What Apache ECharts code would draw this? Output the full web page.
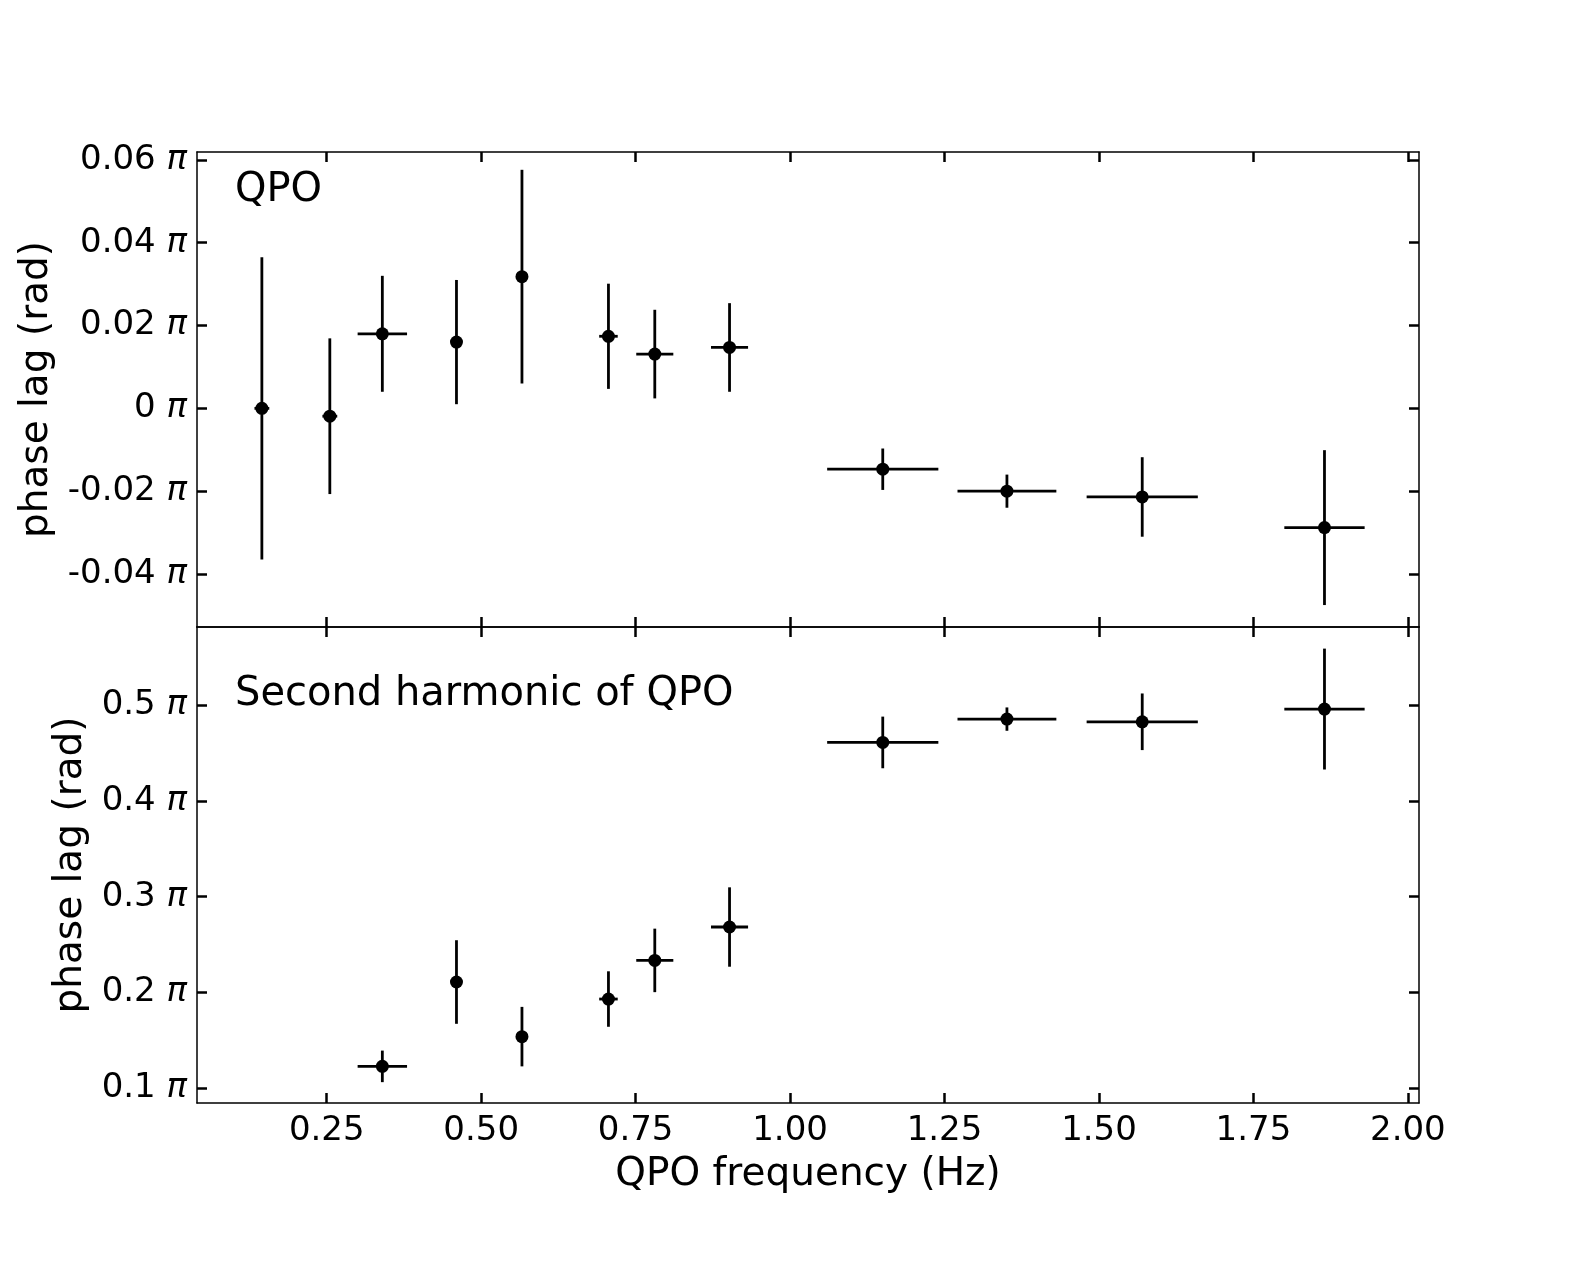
<!DOCTYPE html>
<html>
<head>
<meta charset="utf-8">
<script src="https://cdn.jsdelivr.net/npm/echarts@6/dist/echarts.min.js"></script>
<style>
  html, body { margin: 0; padding: 0; background: #fff; }
  #chart { width: 1578px; height: 1262px; }
</style>
</head>
<body>
<div id="chart"></div>
<script>
// QPO centroid frequency (Hz) and half-width of the frequency bin
var freq    = [0.145, 0.255, 0.340, 0.460, 0.566, 0.706, 0.781, 0.902, 1.150, 1.351, 1.570, 1.865];
var freqErr = [0.012, 0.012, 0.040, 0.006, 0.005, 0.015, 0.030, 0.030, 0.090, 0.080, 0.090, 0.065];
// phase lag of the QPO (units of pi)
var qpoLag  = [0.0, -0.0019, 0.0180, 0.0160, 0.0318, 0.0174, 0.0131, 0.0147, -0.0147, -0.0200, -0.0214, -0.0288];
var qpoErr  = [0.0365, 0.0188, 0.0140, 0.0150, 0.0258, 0.0127, 0.0107, 0.0107, 0.0050, 0.0040, 0.0096, 0.0187];
// phase lag of the second harmonic (units of pi), no value for the first two
var harmLag = [null, null, 0.1226, 0.2108, 0.1537, 0.1930, 0.2334, 0.2683, 0.4613, 0.4857, 0.4829, 0.4962];
var harmErr = [null, null, 0.0165, 0.0437, 0.0311, 0.0290, 0.0332, 0.0415, 0.0270, 0.0122, 0.0296, 0.0632];

var freqTicks  = [0.25, 0.50, 0.75, 1.00, 1.25, 1.50, 1.75, 2.00];
var upperTicks = [-0.04, -0.02, 0, 0.02, 0.04, 0.06];
var lowerTicks = [0.1, 0.2, 0.3, 0.4, 0.5];

var FONT = 'DejaVu Sans';

function pack(lag, err) {
  var out = [];
  for (var i = 0; i < freq.length; i++) {
    if (lag[i] == null) continue;
    out.push([freq[i], lag[i], freqErr[i], err[i]]);
  }
  return out;
}

function errorBars(params, api) {
  var x = api.value(0), y = api.value(1), xe = api.value(2), ye = api.value(3);
  var l = api.coord([x - xe, y]), r = api.coord([x + xe, y]);
  var t = api.coord([x, y + ye]), b = api.coord([x, y - ye]);
  var st = { stroke: '#000', lineWidth: 2.8 };
  return {
    type: 'group',
    children: [
      { type: 'line', shape: { x1: l[0], y1: l[1], x2: r[0], y2: r[1] }, style: st },
      { type: 'line', shape: { x1: t[0], y1: t[1], x2: b[0], y2: b[1] }, style: st }
    ]
  };
}

function piLabel(digits) {
  return function (v) {
    var s = v === 0 ? '0' : v.toFixed(digits);
    return s + ' {p|π}';
  };
}

var lineStyle = { color: '#000', width: 1.5 };
var tickStyle = { color: '#000', width: 2.5 };

function xAx(grid, pos, showLabel) {
  return {
    type: 'value', gridIndex: grid, position: pos,
    min: 0.04, max: 2.018,
    axisLine: { show: true, onZero: false, lineStyle: lineStyle },
    axisTick: { show: true, inside: true, length: 10, customValues: freqTicks, lineStyle: tickStyle },
    axisLabel: {
      show: showLabel, customValues: freqTicks, margin: 11,
      color: '#000', fontSize: 34, fontFamily: FONT,
      formatter: function (v) { return v.toFixed(2); }
    },
    splitLine: { show: false }
  };
}

function yAx(grid, pos, min, max, ticks, digits, showLabel, gap) {
  return {
    type: 'value', gridIndex: grid, position: pos,
    min: min, max: max,
    name: showLabel ? 'phase lag (rad)' : '',
    nameLocation: 'middle', nameGap: gap,
    nameTextStyle: { color: '#000', fontSize: 39, fontFamily: FONT },
    axisLine: { show: true, onZero: false, lineStyle: lineStyle },
    axisTick: { show: true, inside: true, length: 10, customValues: ticks, lineStyle: tickStyle },
    axisLabel: {
      show: showLabel, customValues: ticks, margin: 10,
      color: '#000', fontSize: 34, fontFamily: FONT,
      formatter: piLabel(digits),
      rich: { p: { fontStyle: 'italic', fontSize: 34, fontFamily: FONT, color: '#000' } }
    },
    splitLine: { show: false }
  };
}

var chart = echarts.init(document.getElementById('chart'));
var upperX = xAx(0, 'bottom', false);
var lowerX = xAx(1, 'bottom', true);
lowerX.name = 'QPO frequency (Hz)';
lowerX.nameLocation = 'middle';
lowerX.nameGap = 52;
lowerX.nameTextStyle = { color: '#000', fontSize: 39, fontFamily: FONT };

var dot = { color: '#000', opacity: 1 };

chart.setOption({
  backgroundColor: '#fff',
  animation: false,
  grid: [
    { left: 197, top: 152, width: 1222, height: 475 },
    { left: 197, top: 627, width: 1222, height: 476 }
  ],
  xAxis: [upperX, xAx(0, 'top', false), lowerX, xAx(1, 'top', false)],
  yAxis: [
    yAx(0, 'left', -0.0528, 0.0619, upperTicks, 2, true, 140),
    yAx(0, 'right', -0.0528, 0.0619, upperTicks, 2, false, 0),
    yAx(1, 'left', 0.0843, 0.582, lowerTicks, 1, true, 106),
    yAx(1, 'right', 0.0843, 0.582, lowerTicks, 1, false, 0)
  ],
  graphic: [
    { type: 'text', left: 235, top: 171, style: { text: 'QPO', font: '40px "DejaVu Sans"', fill: '#000' } },
    { type: 'text', left: 235, top: 675, style: { text: 'Second harmonic of QPO', font: '40px "DejaVu Sans"', fill: '#000' } }
  ],
  series: [
    { type: 'custom', xAxisIndex: 0, yAxisIndex: 0, renderItem: errorBars, data: pack(qpoLag, qpoErr), clip: false },
    { type: 'scatter', xAxisIndex: 0, yAxisIndex: 0, symbolSize: 13, itemStyle: dot,
      data: pack(qpoLag, qpoErr).map(function (d) { return [d[0], d[1]]; }) },
    { type: 'custom', xAxisIndex: 2, yAxisIndex: 2, renderItem: errorBars, data: pack(harmLag, harmErr), clip: false },
    { type: 'scatter', xAxisIndex: 2, yAxisIndex: 2, symbolSize: 13, itemStyle: dot,
      data: pack(harmLag, harmErr).map(function (d) { return [d[0], d[1]]; }) }
  ]
});
window.addEventListener('resize', function () { chart.resize(); });
</script>
</body>
</html>
